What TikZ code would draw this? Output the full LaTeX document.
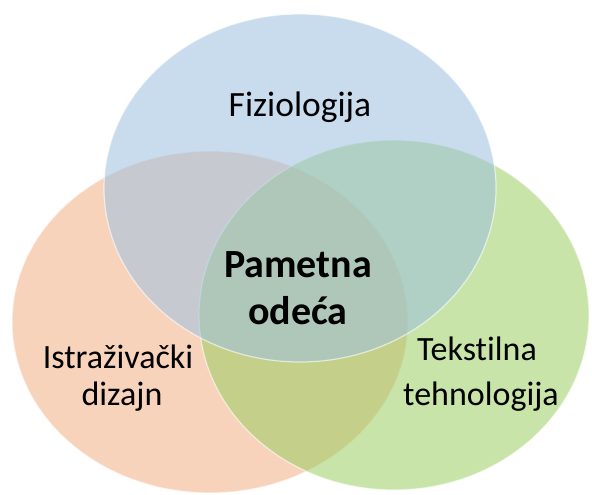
\documentclass[tikz,border=0pt]{standalone}
\usepackage{fontspec}
\setmainfont[Ligatures=NoCommon]{Carlito}
\definecolor{cblue}{RGB}{157,193,224}
\definecolor{corange}{RGB}{243,175,133}
\definecolor{cgreen}{RGB}{155,206,97}
\tikzset{
  venn/.style={fill opacity=0.55, draw=white, draw opacity=0.6, line width=1.2pt},
  lbl/.style={anchor=base, font=\fontsize{34}{40}\selectfont, text=black, inner sep=0pt},
  ctr/.style={anchor=base, font=\fontsize{40}{46}\selectfont\bfseries, text=black, inner sep=0pt}
}
\begin{document}
\begin{tikzpicture}[x=1pt,y=-1pt]
\useasboundingbox (0,0) rectangle (592,495);
\fill[white] (0,0) rectangle (592,495);
\path[venn, fill=corange] (210,322) ellipse [x radius=198, y radius=171];
\path[venn, fill=cgreen] (394,315) ellipse [x radius=195, y radius=175];
\path[venn, fill=cblue] (300,188) ellipse [x radius=196, y radius=174];
\node[lbl, font=\fontsize{35.5}{40}\selectfont] (fiz) at (300,117) {Fiziologija};
\node[ctr] (pam) at (298,277) {Pametna};
\node[ctr] (ode) at (298,324) {odeća};
\node[lbl] (ist) at (118,368) {Istraživački};
\node[lbl] (diz) at (122,405) {dizajn};
\node[lbl] (tek) at (477,360) {Tekst\kern0pt ilna};
\node[lbl] (teh) at (481,405) {tehnologija};
\end{tikzpicture}
\end{document}
